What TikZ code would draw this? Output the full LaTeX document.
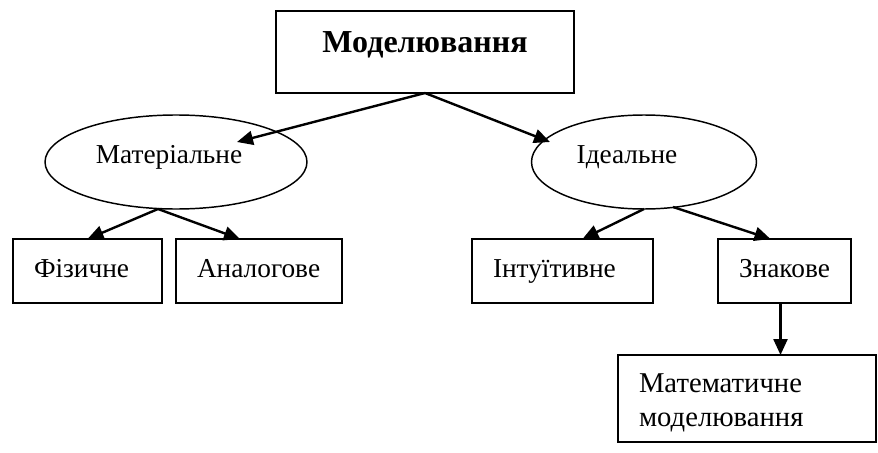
\documentclass[tikz,border=0pt]{standalone}
\usepackage{fontspec}
\setmainfont{Liberation Serif}
\usetikzlibrary{arrows.meta,shapes.geometric,calc}
\begin{document}
\begin{tikzpicture}[x=0.75pt,y=-0.75pt,
  txt/.style={font=\fontsize{20.5}{25.5}\selectfont},
  box/.style={draw,line width=1.2pt,rectangle,inner sep=0pt,outer sep=0pt,txt},
  lbox/.style={box,align=left,inner xsep=15.75pt,text height=13.5pt,text depth=4.5pt,minimum height=48pt},
  oval/.style={draw,line width=1.1pt,ellipse,inner sep=0pt,outer sep=0pt,txt,text height=13.5pt,text depth=12pt,minimum height=70.5pt},
  arr/.style={line width=1.8pt,-{Triangle[length=12pt,width=10.5pt]}}]
\useasboundingbox (0,0) rectangle (878,453);
\node[box,minimum width=223.5pt,minimum height=61.5pt,font=\fontsize{24}{28}\selectfont\bfseries,text height=16pt,text depth=14.5pt] (top) at (425,52) {Моделювання};
\node[oval,minimum width=196.5pt] (mat) at (176,162) {Матеріальне\hspace*{10.5pt}};
\node[oval,minimum width=168.75pt] (ideal) at (644,162) {Ідеальне\hspace*{25.5pt}};
\node[lbox,text width=80.25pt] (fiz) at (87.5,271) {Фізичне};
\node[lbox,text width=93pt] (an) at (259,271) {Аналогове};
\node[lbox,text width=104.25pt] (int) at (562.5,271) {Інтуїтивне};
\node[lbox,text width=68.25pt] (zn) at (784.5,271) {Знакове};
\node[box,align=left,inner xsep=15.75pt,text width=162pt,font=\fontsize{21.5}{25.5}\selectfont,text height=14.2pt,text depth=22.5pt,minimum height=65.25pt] (math) at (747,398.5) {Математичне\\моделювання};
\draw[arr] (top.south) -- ($(mat.center)+(61,-20)$);
\draw[arr] (top.south) -- ($(ideal.center)+(-94,-20)$);
\draw[arr] ($(mat.south)+(-18,0)$) -- (fiz.north);
\draw[arr] ($(mat.south)+(-18,0)$) -- ($(an.north)+(-19,0)$);
\draw[arr] (ideal.south) -- ($(int.north)+(20,0)$);
\draw[arr] ($(ideal.south)+(29,-2)$) -- ($(zn.north)+(-14,0)$);
\coordinate (zs) at ($(zn.south)+(-4,0)$);
\draw[arr] (zs) -- (zs |- math.north);
\end{tikzpicture}
\end{document}
